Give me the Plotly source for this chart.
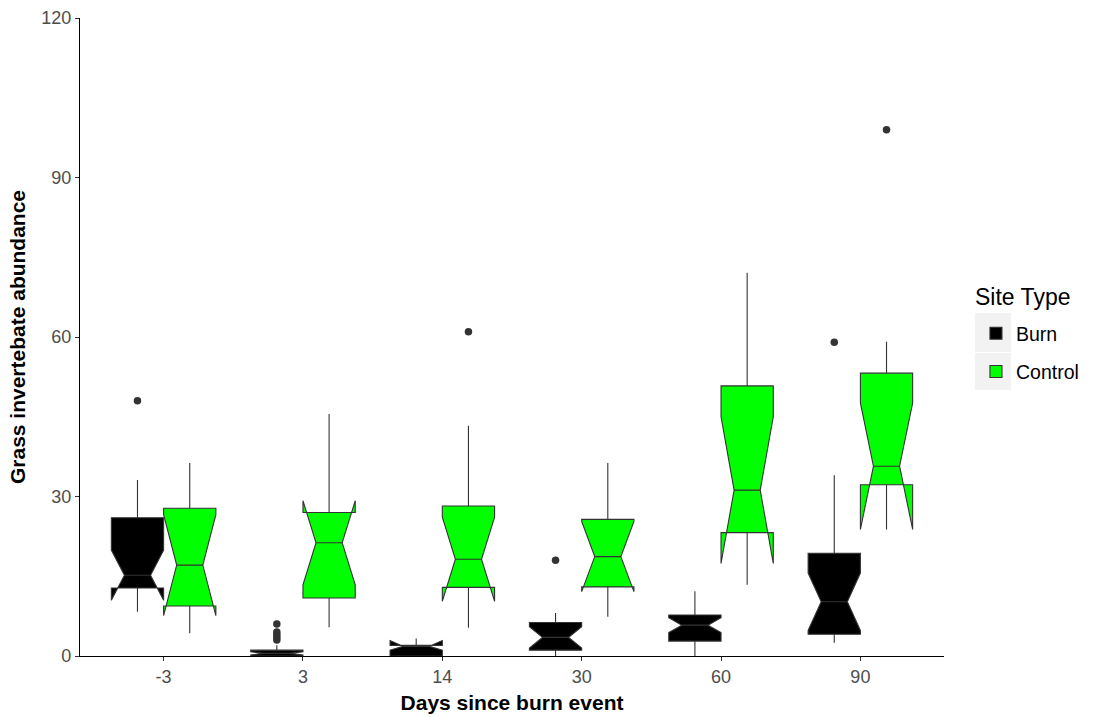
import plotly.graph_objects as go

# Sampling days relative to the burn event
days = ["-3", "3", "14", "30", "60", "90"]
site_types = ["Burn", "Control"]

# Burn sites: precomputed box statistics
burn_q1 = [12.8, 0.0, 0.0, 1.1, 2.8, 4.1]
burn_median = [15.2, 0.5, 2.0, 3.5, 5.8, 10.2]
burn_q3 = [26.0, 1.1, 2.0, 6.3, 7.7, 19.3]
burn_lower = [8.3, 0.0, 0.0, 0.0, 0.0, 2.5]
burn_upper = [33.1, 2.0, 3.3, 8.1, 12.2, 34.0]
burn_notch = [4.7, 0.3, 0.9, 2.0, 1.4, 5.4]
burn_outliers = [[48], [3, 3.5, 4, 4.5, 6], [], [18], [], [59]]

# Control sites: precomputed box statistics
ctrl_q1 = [9.4, 10.9, 12.9, 13.0, 23.2, 32.2]
ctrl_median = [17.1, 21.3, 18.2, 18.7, 31.2, 35.7]
ctrl_q3 = [27.8, 27.0, 28.2, 25.7, 50.8, 53.2]
ctrl_lower = [4.3, 5.4, 5.3, 7.4, 13.4, 29.3]
ctrl_upper = [36.3, 45.5, 43.3, 36.3, 72.1, 59.1]
ctrl_notch = [9.5, 7.9, 7.9, 6.6, 13.8, 11.9]
ctrl_outliers = [[], [], [61], [], [], [99]]

fills = {"Burn": "#000000", "Control": "#00FF00"}

LINE = "#333333"
FONT = "Liberation Sans, Arial, sans-serif"
BOX_W = 0.375                      # each dodged box takes half of 0.75
DODGE = {"Burn": -BOX_W / 2, "Control": BOX_W / 2}

stats = {
    "Burn": (burn_q1, burn_median, burn_q3, burn_lower, burn_upper,
             burn_notch, burn_outliers),
    "Control": (ctrl_q1, ctrl_median, ctrl_q3, ctrl_lower, ctrl_upper,
                ctrl_notch, ctrl_outliers),
}

fig = go.Figure()
for site in site_types:
    q1, med, q3, lo, hi, notch, outs = stats[site]
    xpos = [i + DODGE[site] for i in range(len(days))]
    fig.add_trace(go.Box(
        name=site,
        legendgroup=site,
        x=xpos,
        q1=q1, median=med, q3=q3,
        lowerfence=lo, upperfence=hi,
        notchspan=notch,
        notched=True,
        notchwidth=0.25,
        width=BOX_W,
        whiskerwidth=0,
        boxpoints=False,
        fillcolor=fills[site],
        line=dict(color=LINE, width=1.1),
        hoverinfo="skip",
    ))
    # outlying observations drawn at the dodged box centre
    ox, oy = [], []
    for i, vals in enumerate(outs):
        for v in vals:
            ox.append(xpos[i])
            oy.append(v)
    fig.add_trace(go.Scatter(
        x=ox, y=oy, mode="markers",
        marker=dict(color=LINE, size=7.5),
        showlegend=False, legendgroup=site, hoverinfo="skip",
    ))

# grey key backgrounds in the legend
for y0, y1 in [(0.4765, 0.5376), (0.4169, 0.4749)]:
    fig.add_shape(type="rect", xref="paper", yref="paper",
                  x0=1.0358, x1=1.0774, y0=y0, y1=y1,
                  fillcolor="#F2F2F2", line=dict(width=0), layer="below")

# legend heading
fig.add_annotation(text="Site Type", xref="paper", yref="paper",
                   x=1.0335, y=0.5627, xanchor="left", yanchor="middle",
                   showarrow=False, font=dict(size=23, color="#000000"))

fig.update_layout(
    width=1096,
    height=717,
    margin=dict(l=80, r=150, t=18, b=61),
    paper_bgcolor="white",
    plot_bgcolor="white",
    boxmode="overlay",
    font=dict(family=FONT, color="#000000"),
    legend=dict(
        font=dict(size=19.5, color="#000000"),
        x=1.037, xanchor="left",
        y=0.536, yanchor="top",
        bgcolor="rgba(0,0,0,0)",
        tracegroupgap=10,
    ),
    xaxis=dict(
        range=[-0.6, 5.6],
        tickvals=list(range(len(days))),
        ticktext=days,
        automargin=False,
        showline=True, linecolor="#000000", linewidth=1.2,
        ticks="outside", ticklen=4, tickcolor="#333333",
        tickfont=dict(size=18, color="#4D4D4D"),
        showgrid=False, zeroline=False,
        title=dict(text="<b>Days since burn event</b>",
                   font=dict(size=21, color="#000000"), standoff=9),
    ),
    yaxis=dict(
        range=[0, 120],
        tickvals=[0, 30, 60, 90, 120],
        automargin=False,
        showline=True, linecolor="#000000", linewidth=1.2,
        ticks="outside", ticklen=4, tickcolor="#333333",
        tickfont=dict(size=18, color="#4D4D4D"),
        showgrid=False, zeroline=False,
        title=dict(text="<b>Grass invertebate abundance</b>",
                   font=dict(size=21, color="#000000"), standoff=9),
    ),
)

fig.write_html("out.html")
